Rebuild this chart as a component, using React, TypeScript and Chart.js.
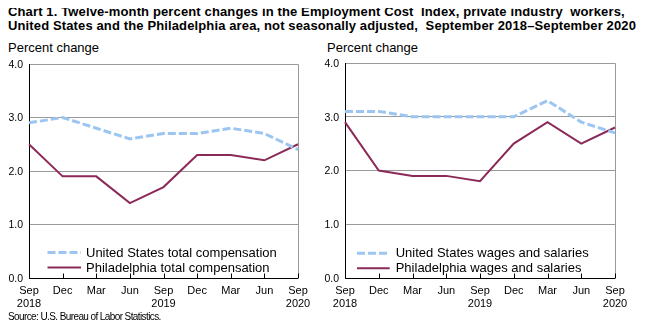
import React, { useEffect, useRef } from 'react';
import { Chart, registerables } from 'chart.js';

Chart.register(...registerables);

const categories: (string | string[])[] = [['Sep', '2018'], 'Dec', 'Mar', 'Jun', ['Sep', '2019'], 'Dec', 'Mar', 'Jun', ['Sep', '2020']];
const usTotalComp = [2.9, 3.0, 2.8, 2.6, 2.7, 2.7, 2.8, 2.7, 2.4];
const phlTotalComp = [2.5, 1.9, 1.9, 1.4, 1.7, 2.3, 2.3, 2.2, 2.5];
const usWages = [3.1, 3.1, 3.0, 3.0, 3.0, 3.0, 3.3, 2.9, 2.7];
const phlWages = [2.9, 2.0, 1.9, 1.9, 1.8, 2.5, 2.9, 2.5, 2.8];
const yMin = 0;
const yMax = 4;
const yStep = 1;

const US_COLOR = '#9CC5F2';
const PHL_COLOR = '#8B2A58';
const FONT = '"Liberation Sans", Arial, sans-serif';

const framePlugin = {
  id: 'frameLegend',
  beforeDatasetsDraw(chart: any) {
    const { ctx, chartArea } = chart;
    const { left, right, top, bottom } = chartArea;
    ctx.save();
    ctx.lineWidth = 1;
    ctx.strokeStyle = '#9A9A9A';
    ctx.beginPath();
    ctx.moveTo(left, Math.round(top) + 0.5);
    ctx.lineTo(Math.round(right) + 0.5, Math.round(top) + 0.5);
    ctx.lineTo(Math.round(right) + 0.5, bottom);
    ctx.stroke();
    ctx.strokeStyle = '#000';
    ctx.beginPath();
    ctx.moveTo(Math.round(left) + 0.5, top);
    ctx.lineTo(Math.round(left) + 0.5, Math.round(bottom) + 0.5);
    ctx.lineTo(right, Math.round(bottom) + 0.5);
    ctx.stroke();
    const xs = chart.scales.x;
    ctx.beginPath();
    for (let i = 0; i < xs.ticks.length; i++) {
      const px = Math.round(xs.getPixelForTick(i)) + 0.5;
      ctx.moveTo(px, Math.round(bottom) + 0.5);
      ctx.lineTo(px, Math.round(bottom) - 4.5);
    }
    ctx.stroke();
    const ys = chart.scales.y;
    ctx.font = `10.5px ${FONT}`;
    ctx.fillStyle = '#000';
    ctx.textAlign = 'right';
    ctx.textBaseline = 'middle';
    ys.ticks.forEach((t: any) => {
      const py = ys.getPixelForValue(t.value);
      ctx.fillText(Number(t.value).toFixed(1), left - 6, py + 1);
    });
    ctx.restore();
  },
  afterDraw(chart: any, _args: any, opts: any) {
    const { ctx, chartArea } = chart;
    const { left, bottom } = chartArea;
    ctx.save();
    ctx.font = `13px ${FONT}`;
    ctx.textBaseline = 'middle';
    ctx.fillStyle = '#000';
    chart.data.datasets.forEach((ds: any, i: number) => {
      const y = bottom + opts.rows[i];
      ctx.beginPath();
      ctx.strokeStyle = ds.borderColor;
      ctx.lineWidth = ds.borderWidth;
      ctx.setLineDash(ds.borderDash || []);
      ctx.moveTo(left + opts.lineStart, y);
      ctx.lineTo(left + opts.lineEnd, y);
      ctx.stroke();
      ctx.setLineDash([]);
      ctx.fillText(ds.label, left + opts.textStart, y + 0.5);
    });
    ctx.restore();
  },
};

function makeConfig(usData: number[], phlData: number[], usLabel: string, phlLabel: string, pad: any, legendOpts: any) {
  return {
    type: 'line' as const,
    data: {
      labels: categories,
      datasets: [
        {
          label: usLabel,
          data: usData,
          borderColor: US_COLOR,
          borderWidth: 3,
          borderDash: [8, 3],
          pointRadius: 0,
          tension: 0,
          fill: false,
        },
        {
          label: phlLabel,
          data: phlData,
          borderColor: PHL_COLOR,
          borderWidth: 2,
          pointRadius: 0,
          tension: 0,
          fill: false,
        },
      ],
    },
    options: {
      responsive: false,
      animation: false as const,
      devicePixelRatio: 1,
      layout: { padding: { left: 0, right: pad.right, top: pad.top, bottom: 0 } },
      plugins: {
        legend: { display: false },
        tooltip: { enabled: false },
        title: { display: false },
        frameLegend: legendOpts,
      },
      scales: {
        x: {
          type: 'category' as const,
          offset: false,
          grid: { display: false, drawTicks: false, tickLength: 0 },
          border: { display: false },
          ticks: {
            autoSkip: false,
            maxRotation: 0,
            minRotation: 0,
            color: '#000',
            padding: 6,
            font: { family: FONT, size: 11, lineHeight: 1.2 },
          },
          afterFit(scale: any) {
            scale.height = 37;
          },
        },
        y: {
          min: yMin,
          max: yMax,
          grid: { color: '#9A9A9A', drawTicks: false, tickLength: 0, lineWidth: 1 },
          border: { display: false },
          ticks: {
            display: false,
            stepSize: yStep,
          },
          afterFit(scale: any) {
            scale.width = pad.yWidth;
          },
        },
      },
    },
    plugins: [framePlugin],
  };
}

function LineChart(props: { usData: number[]; phlData: number[]; usLabel: string; phlLabel: string; pad: any; legendOpts: any; style: any }) {
  const ref = useRef<HTMLCanvasElement | null>(null);
  useEffect(() => {
    if (!ref.current) return;
    const chart = new Chart(ref.current, makeConfig(props.usData, props.phlData, props.usLabel, props.phlLabel, props.pad, props.legendOpts) as any);
    return () => chart.destroy();
  }, []);
  return <canvas ref={ref} width={320} height={265} style={{ position: 'absolute', ...props.style }} />;
}

const textBase: any = { position: 'absolute', fontFamily: FONT, color: '#000', whiteSpace: 'pre', margin: 0 };

export default function App() {
  return (
    <div style={{ position: 'relative', width: 647, height: 328, margin: '-8px 0 0 -8px', overflow: 'visible' }}>
      <div style={{ ...textBase, left: 8, top: 5, fontSize: 13, lineHeight: '14px', fontWeight: 'bold', letterSpacing: '0.13px' }}>
        {'Chart 1. Twelve-month percent changes in the Employment Cost  Index, private industry  workers,'}
      </div>
      <div style={{ ...textBase, left: 8, top: 19, fontSize: 13, lineHeight: '14px', fontWeight: 'bold', letterSpacing: '0.13px' }}>
        {'United States and the Philadelphia area, not seasonally adjusted,  September 2018\u2013September 2020'}
      </div>
      <div style={{ ...textBase, left: 8, top: 41, fontSize: 13, lineHeight: '14px' }}>Percent change</div>
      <div style={{ ...textBase, left: 327, top: 41, fontSize: 13, lineHeight: '14px' }}>Percent change</div>
      <LineChart
        usData={usTotalComp}
        phlData={phlTotalComp}
        usLabel="United States total compensation"
        phlLabel="Philadelphia total compensation"
        pad={{ right: 22, top: 14, yWidth: 29 }}
        legendOpts={{ rows: [-25.5, -10.5], lineStart: 18.5, lineEnd: 52, textStart: 57 }}
        style={{ left: 0, top: 50 }}
      />
      <LineChart
        usData={usWages}
        phlData={phlWages}
        usLabel="United States wages and salaries"
        phlLabel="Philadelphia wages and salaries"
        pad={{ right: 21, top: 13, yWidth: 29 }}
        legendOpts={{ rows: [-24.7, -9.7], lineStart: 12, lineEnd: 44.7, textStart: 50.7 }}
        style={{ left: 316, top: 50 }}
      />
      <div style={{ ...textBase, left: 8, top: 311, fontSize: 10, lineHeight: '12px', letterSpacing: '-0.6px' }}>
        Source: U.S. Bureau of Labor Statistics.
      </div>
    </div>
  );
}
